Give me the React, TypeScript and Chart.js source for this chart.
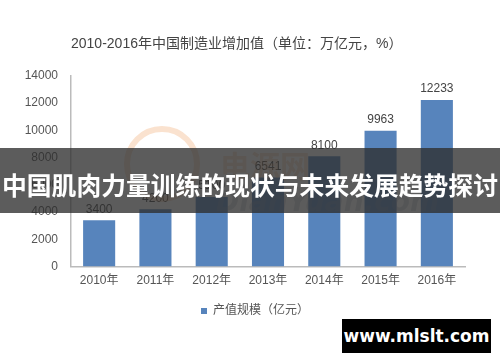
import React, { useEffect, useRef } from "react";
import { Chart, registerables } from "chart.js";

Chart.register(...registerables);

const categories = ["2010年", "2011年", "2012年", "2013年", "2014年", "2015年", "2016年"];
const outputValues = [3400, 4200, 5100, 6541, 8100, 9963, 12233];
const yTicks = [0, 2000, 4000, 6000, 8000, 10000, 12000, 14000];
const seriesName = "产值规模（亿元）";
const titleText = "2010-2016年中国制造业增加值（单位：万亿元，%）";
const bannerText = "中国肌肉力量训练的现状与未来发展趋势探讨";
const siteText = "www.mlslt.com";

const FONT = "'Liberation Sans', 'Noto Sans CJK SC', sans-serif";

const valueLabels = {
  id: "valueLabels",
  afterDatasetsDraw(chart: any) {
    const ctx = chart.ctx;
    const meta = chart.getDatasetMeta(0);
    ctx.save();
    ctx.font = `12px ${FONT}`;
    ctx.fillStyle = "#444";
    ctx.textAlign = "center";
    ctx.textBaseline = "middle";
    meta.data.forEach((bar: any, i: number) => {
      ctx.fillText(String(chart.data.datasets[0].data[i]), bar.x, bar.y - 11);
    });
    ctx.restore();
  },
};

const watermark = {
  id: "watermark",
  afterDatasetsDraw(chart: any) {
    const ctx = chart.ctx;
    ctx.save();
    ctx.globalAlpha = 0.3;
    ctx.strokeStyle = "#f0a060";
    ctx.lineWidth = 6;
    ctx.beginPath();
    ctx.arc(162, 164, 35, 0, Math.PI * 2);
    ctx.stroke();
    ctx.fillStyle = "#f0a060";
    ctx.font = `bold 30px 'Noto Sans CJK SC', sans-serif`;
    ctx.textBaseline = "middle";
    ctx.fillText("电源网", 220, 166);
    ctx.fillStyle = "#8a96a8";
    ctx.font = `italic bold 28px 'DejaVu Sans', sans-serif`;
    ctx.fillText("DianYuan.com", 216, 204);
    ctx.restore();
  },
};

export default function App() {
  const ref = useRef<HTMLCanvasElement | null>(null);

  useEffect(() => {
    if (!ref.current) return;
    const chart = new Chart(ref.current, {
      type: "bar",
      data: {
        labels: categories,
        datasets: [
          {
            label: seriesName,
            data: outputValues,
            backgroundColor: "#5784bc",
            borderWidth: 0,
            categoryPercentage: 1,
            barPercentage: 0.57,
          },
        ],
      },
      options: {
        responsive: false,
        animation: false,
        layout: { padding: { left: 10, right: 0, top: 0, bottom: 35 } },
        plugins: {
          tooltip: { enabled: false },
          title: {
            display: true,
            text: titleText,
            align: "start",
            fullSize: false,
            color: "#444",
            font: { size: 14, family: FONT, weight: "normal" },
            padding: { top: 36, bottom: 23 },
          },
          legend: {
            display: true,
            position: "bottom",
            labels: {
              color: "#555",
              font: { size: 12, family: FONT },
              boxWidth: 6,
              boxHeight: 6,
              padding: 10,
            },
          },
        },
        scales: {
          x: {
            grid: { display: false, drawTicks: false },
            border: { color: "#bbb", width: 1.5 },
            ticks: { color: "#555", font: { size: 12, family: FONT }, padding: 7 },
          },
          y: {
            min: 0,
            max: 14000,
            afterBuildTicks(scale: any) {
              scale.ticks = yTicks.map((v) => ({ value: v }));
            },
            afterFit(scale: any) {
              scale.width = 61;
            },
            grid: { display: false, drawTicks: false },
            border: { color: "#bbb", width: 1.5 },
            ticks: {
              color: "#555",
              font: { size: 12, family: FONT },
              padding: 13,
              callback: (v: any) => String(v),
            },
          },
          y2: {
            position: "right",
            display: true,
            grid: { display: false, drawTicks: false },
            border: { display: false },
            ticks: { display: false },
            afterFit(scale: any) {
              scale.width = 35;
            },
          },
        },
      },
      plugins: [valueLabels, watermark],
    } as any);
    return () => chart.destroy();
  }, []);

  return (
    <div style={{ position: "absolute", left: 0, top: 0, width: 500, height: 362, background: "#fff", overflow: "hidden" }}>
      <canvas ref={ref} width={500} height={362} style={{ display: "block" }} />
      <div
        style={{
          position: "absolute",
          left: 0,
          top: 148,
          width: 500,
          height: 65,
          background: "rgba(46,46,46,0.78)",
          color: "#fff",
          fontFamily: "'Noto Sans CJK SC', sans-serif",
          fontWeight: 700,
          fontSize: 24.8,
          lineHeight: "65px",
          textAlign: "center",
          whiteSpace: "nowrap",
          paddingTop: 4,
          boxSizing: "border-box",
        }}
      >
        {bannerText}
      </div>
      <div
        style={{
          position: "absolute",
          left: 342,
          top: 319,
          width: 149,
          height: 34,
          background: "#000",
          color: "#fff",
          fontFamily: "'DejaVu Sans', sans-serif",
          fontWeight: 700,
          fontSize: 17,
          lineHeight: "34px",
          textAlign: "center",
          whiteSpace: "nowrap",
        }}
      >
        {siteText}
      </div>
    </div>
  );
}
